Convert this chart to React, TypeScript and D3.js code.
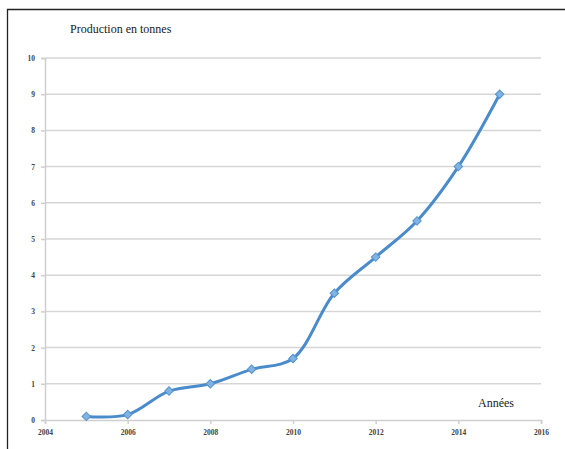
import React, { useEffect, useRef } from 'react';
import * as d3 from 'd3';

const years = [2005, 2006, 2007, 2008, 2009, 2010, 2011, 2012, 2013, 2014, 2015];
const production = [0.1, 0.15, 0.8, 1.0, 1.4, 1.7, 3.5, 4.5, 5.5, 7, 9];
const yTicks = [0, 1, 2, 3, 4, 5, 6, 7, 8, 9, 10];
const xTicks = [2004, 2006, 2008, 2010, 2012, 2014, 2016];

const width = 565;
const height = 449;
const margins = { top: 58, bottom: 29, left: 45, right: 24 };

export default function App(): JSX.Element {
  const container = useRef<SVGSVGElement>(null);

  useEffect(() => {
    const svg = d3.select(container.current);
    svg.selectAll('*').remove();

    const xScale = d3
      .scaleLinear()
      .domain([2004, 2016])
      .range([margins.left, width - margins.right]);
    const yScale = d3
      .scaleLinear()
      .domain([0, 10])
      .range([height - margins.bottom, margins.top]);

    // frame (left + top only, as in the scan)
    svg
      .append('path')
      .attr('d', `M7.5,${height} V9.5 H${width}`)
      .attr('fill', 'none')
      .attr('stroke', '#222')
      .attr('stroke-width', 1.3);

    // grid lines
    svg
      .append('g')
      .selectAll('line')
      .data(yTicks.slice(1))
      .join('line')
      .attr('x1', margins.left)
      .attr('x2', width - margins.right)
      .attr('y1', (d) => yScale(d))
      .attr('y2', (d) => yScale(d))
      .attr('stroke', '#d6d6d6')
      .attr('stroke-width', 1.5);

    // y axis
    const yAxis = d3
      .axisLeft(yScale)
      .tickValues(yTicks)
      .tickSize(4)
      .tickPadding(6)
      .tickFormat(d3.format('d'));
    const gy = svg
      .append('g')
      .attr('transform', `translate(${margins.left},0)`)
      .call(yAxis);
    gy.select('.domain').attr('stroke', '#cfcfcf').attr('stroke-width', 1.5);
    gy.selectAll('.tick line').attr('stroke', '#cfcfcf').attr('stroke-width', 1.5);
    gy.selectAll('.tick text')
      .attr('fill', '#444')
      .attr('font-size', 7.5)
      .attr('font-weight', 'bold')
      .attr('font-family', 'Liberation Serif, serif');

    // x axis
    const xAxis = d3
      .axisBottom(xScale)
      .tickValues(xTicks)
      .tickSize(4)
      .tickPadding(6)
      .tickFormat(d3.format('d'));
    const gx = svg
      .append('g')
      .attr('transform', `translate(0,${height - margins.bottom})`)
      .call(xAxis);
    gx.select('.domain').attr('stroke', '#cfcfcf').attr('stroke-width', 1.5);
    gx.selectAll('.tick line').attr('stroke', '#cfcfcf').attr('stroke-width', 1.5);
    gx.selectAll('.tick text')
      .attr('fill', '#444')
      .attr('font-size', 7.5)
      .attr('font-weight', 'bold')
      .attr('font-family', 'Liberation Serif, serif');

    const data = years.map((y, i) => ({ x: y, y: production[i] }));

    const lineGenerator = d3
      .line<{ x: number; y: number }>()
      .x((d) => xScale(d.x))
      .y((d) => yScale(d.y))
      .curve(d3.curveCatmullRom.alpha(0.5));

    svg
      .append('path')
      .attr('d', lineGenerator(data) || '')
      .attr('fill', 'none')
      .attr('stroke', '#4a8bcb')
      .attr('stroke-width', 3)
      .attr('stroke-linejoin', 'round');

    // square markers rotated 45° (Excel-style diamonds)
    const marker = d3.symbol().type(d3.symbolSquare).size(36);
    svg
      .append('g')
      .selectAll('path')
      .data(data)
      .join('path')
      .attr('d', marker)
      .attr('transform', (d) => `translate(${xScale(d.x)},${yScale(d.y)}) rotate(45)`)
      .attr('fill', '#80b3e2')
      .attr('stroke', '#5592cf')
      .attr('stroke-width', 1);

    svg
      .append('text')
      .attr('x', 70)
      .attr('y', 33)
      .attr('font-family', 'Liberation Serif, serif')
      .attr('font-size', 12)
      .attr('fill', '#222')
      .text('Production en tonnes');

    svg
      .append('text')
      .attr('x', 478)
      .attr('y', 407)
      .attr('font-family', 'Liberation Serif, serif')
      .attr('font-size', 12)
      .attr('fill', '#222')
      .text('Années');
  }, []);

  return (
    <svg
      ref={container}
      width={width}
      height={height}
      style={{ position: 'absolute', left: 0, top: 0, background: '#fff' }}
    />
  );
}
